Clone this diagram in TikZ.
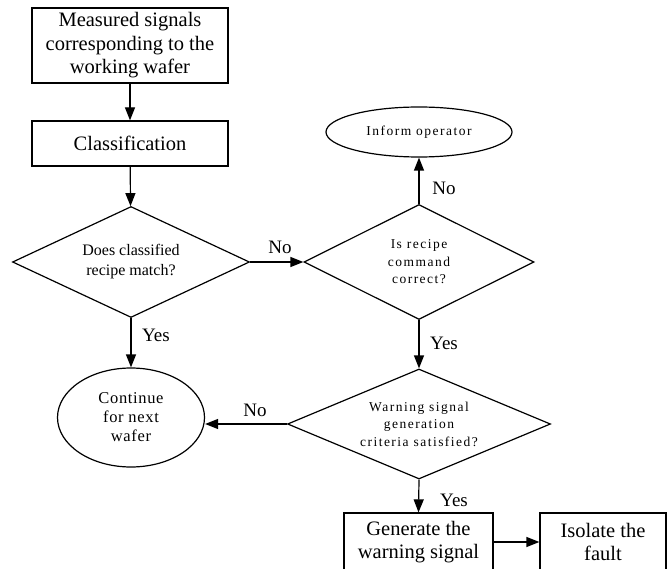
\documentclass[tikz,border=0pt]{standalone}
\usepackage{fontspec}
\setmainfont{Liberation Serif}
\usetikzlibrary{shapes.geometric,arrows.meta}
\begin{document}
\begin{tikzpicture}[x=1pt,y=-1pt,
  shp/.style={draw,line width=1.2pt,align=center,inner sep=0pt},
  boxn/.style={shp,rectangle},
  dia/.style={shp,diamond},
  ell/.style={shp,ellipse},
  arr/.style={line width=1.2pt,-{Triangle[length=13pt,width=10pt]}},
  lbl/.style={font=\fontsize{19}{22}\selectfont, inner sep=0pt},
  big/.style={font=\fontsize{20.5}{23.5}\selectfont},
  mid/.style={font=\fontsize{16}{20}\selectfont},
  cont/.style={font=\fontsize{16.5}{19}\selectfont\addfontfeatures{LetterSpace=4}},
  sml/.style={font=\fontsize{13.5}{17.5}\selectfont\addfontfeatures{LetterSpace=11}}
]
\useasboundingbox (0,0) rectangle (669,569);
\clip (0,0) rectangle (669,569);
\node[boxn,big,minimum width=196pt,minimum height=75pt] (meas) at (130,45.5) {Measured signals\\corresponding to the\\working wafer};
\node[boxn,big,minimum width=196pt,minimum height=45pt] (cls) at (130,143.5) {Classification};
\node[dia,mid,aspect=2.13,minimum width=237pt,minimum height=111pt] (d1) at (131,262) {Does classified\\recipe match?};
\node[dia,sml,aspect=2,minimum width=230pt,minimum height=115pt] (d2) at (419,262) {Is recipe\\command\\correct?};
\node[ell,sml,minimum width=186pt,minimum height=50pt] (inf) at (419,132) {Inform operator};
\node[ell,cont,minimum width=147pt,minimum height=99pt] (cnt) at (131,417.5) {Continue\\for next\\wafer};
\node[dia,sml,aspect=2.39,minimum width=263pt,minimum height=110pt] (d3) at (419,424) {Warning signal\\generation\\criteria satisfied?};
\node[boxn,big,minimum width=149pt,minimum height=58pt] (gen) at (418.5,542) {Generate the\\warning signal};
\node[boxn,big,minimum width=126pt,minimum height=58pt] (iso) at (603,542) {Isolate the\\fault};

\draw[arr] (meas) -- (cls);
\draw[arr] (cls) -- (d1);
\draw[arr] (d1.east) -- (d2.west);
\draw[arr] (d2.north) -- (inf.south);
\draw[arr] (d1.south) -- (cnt.north);
\draw[arr] (d2.south) -- (d3.north);
\draw[arr] (d3.west) -- (d3.west -| cnt.east);
\draw[arr] (d3.south) -- (gen.north);
\draw[arr] (gen.east) -- (iso.west);

\node[lbl] (l1) at (280,247) {No};
\node[lbl] (l2) at (444,188) {No};
\node[lbl] (l3) at (156,335) {Yes};
\node[lbl] (l4) at (444,343) {Yes};
\node[lbl] (l5) at (454,500) {Yes};
\node[lbl] (l6) at (255,410) {No};
\end{tikzpicture}
\end{document}
